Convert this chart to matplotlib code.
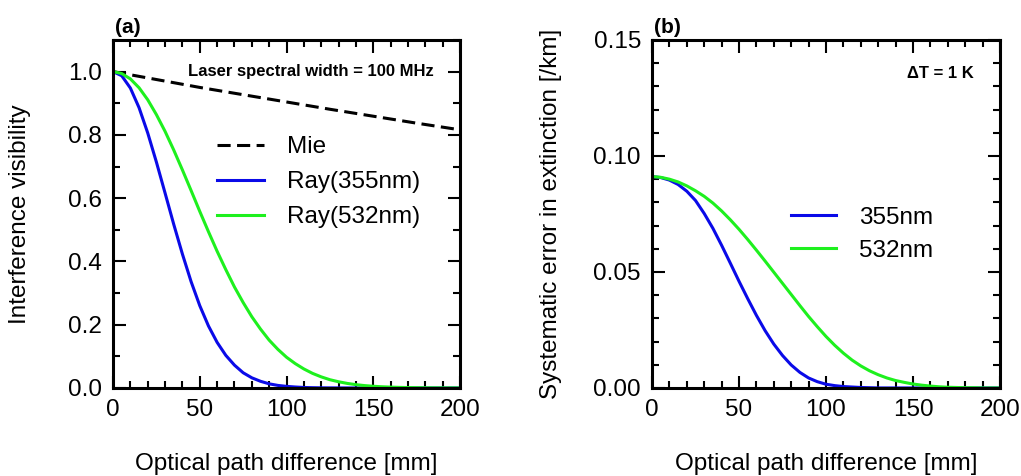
import matplotlib
matplotlib.use("Agg")
import matplotlib.pyplot as plt
from matplotlib.ticker import MultipleLocator, FormatStrFormatter

plt.rcParams["font.family"] = ["Liberation Sans", "DejaVu Sans"]

# optical path difference [mm]
opd = [0, 5, 10, 15, 20, 25, 30, 35, 40, 45, 50, 55, 60, 65, 70, 75, 80, 85, 90, 95,
       100, 105, 110, 115, 120, 125, 130, 135, 140, 145, 150, 155, 160, 165, 170, 175,
       180, 185, 190, 195, 200]

# (a) interference visibility
mie_x = [0, 25, 50, 75, 100, 125, 150, 175, 200]
mie_vis = [1.0, 0.975, 0.950, 0.927, 0.904, 0.881, 0.859, 0.837, 0.816]
ray355_vis = [1.0, 0.987, 0.948, 0.886, 0.806, 0.714, 0.616, 0.517, 0.423, 0.336,
              0.260, 0.196, 0.144, 0.103, 0.072, 0.048, 0.032, 0.021, 0.013, 0.008,
              0.005, 0.003, 0.0015, 0.0008, 0.0004, 0.0002, 0.0001, 0, 0, 0,
              0, 0, 0, 0, 0, 0, 0, 0, 0, 0, 0]
ray532_vis = [1.0, 0.994, 0.977, 0.949, 0.911, 0.864, 0.811, 0.752, 0.689, 0.624,
              0.558, 0.494, 0.432, 0.374, 0.319, 0.270, 0.225, 0.186, 0.151, 0.122,
              0.097, 0.077, 0.060, 0.046, 0.035, 0.026, 0.0195, 0.0143, 0.0104, 0.0074,
              0.0053, 0.0037, 0.0026, 0.0018, 0.0012, 0.0008, 0.0005, 0.0003, 0.0002, 0.0001, 0.0001]

# (b) systematic error in extinction [/km]
err355 = [0.0911, 0.0907, 0.0896, 0.0877, 0.0848, 0.0808, 0.0752, 0.0688, 0.0615, 0.0538,
          0.0460, 0.0385, 0.0313, 0.0247, 0.0189, 0.0140, 0.0099, 0.0067, 0.0043, 0.0027,
          0.0016, 0.0010, 0.0006, 0.0004, 0.0002, 0.0001, 0, 0, 0, 0,
          0, 0, 0, 0, 0, 0, 0, 0, 0, 0, 0]
err532 = [0.0911, 0.0908, 0.0900, 0.0888, 0.0871, 0.0850, 0.0826, 0.0797, 0.0763, 0.0725,
          0.0684, 0.0640, 0.0594, 0.0547, 0.0499, 0.0451, 0.0403, 0.0355, 0.0308, 0.0264,
          0.0222, 0.0184, 0.0150, 0.0120, 0.0095, 0.0074, 0.0057, 0.0043, 0.0032, 0.0024,
          0.0017, 0.0012, 0.0008, 0.0005, 0.0003, 0.0002, 0.0001, 0.0001, 0, 0, 0]

BLUE = "#0a0ae8"
GREEN = "#1ef01e"
FS = 17.5

fig = plt.figure(figsize=(10.21, 4.76), dpi=100)
ax1 = fig.add_axes([0.1107, 0.185, 0.3399, 0.731])
ax2 = fig.add_axes([0.6386, 0.185, 0.3408, 0.731])


def style(ax, ymajor, yminor):
    ax.set_xlim(0, 200)
    ax.xaxis.set_major_locator(MultipleLocator(50))
    ax.xaxis.set_minor_locator(MultipleLocator(10))
    ax.yaxis.set_major_locator(MultipleLocator(ymajor))
    ax.yaxis.set_minor_locator(MultipleLocator(yminor))
    ax.tick_params(which="both", direction="in", top=True, right=True, width=1.5)
    ax.tick_params(which="major", length=9, labelsize=FS, pad=8)
    ax.tick_params(which="minor", length=5)
    for sp in ax.spines.values():
        sp.set_linewidth(2.2)
    ax.set_xlabel("Optical path difference [mm]", fontsize=FS, va="top")
    ax.xaxis.set_label_coords(0.5, -0.186)


# panel (a)
ax1.plot(mie_x, mie_vis, color="black", lw=2.2, dashes=(4.3, 2.1), label="Mie")
ax1.plot(opd, ray355_vis, color=BLUE, lw=2.2, label="Ray(355nm)")
ax1.plot(opd, ray532_vis, color=GREEN, lw=2.2, label="Ray(532nm)")
ax1.set_ylim(0, 1.1)
style(ax1, 0.2, 0.1)
ax1.yaxis.set_major_formatter(FormatStrFormatter("%.1f"))
ax1.set_ylabel("Interference visibility", fontsize=FS)
ax1.yaxis.set_label_coords(-0.235, 0.5)
ax1.text(0.925, 0.909, "Laser spectral width = 100 MHz", transform=ax1.transAxes,
         ha="right", va="center", fontsize=12, fontweight="bold")
ax1.text(0.005, 1.01, "(a)", transform=ax1.transAxes, ha="left", va="bottom",
         fontsize=15, fontweight="bold")
ax1.legend(loc="upper left", bbox_to_anchor=(0.30, 0.723), frameon=False, fontsize=FS,
           handlelength=1.93, handletextpad=0.95, labelspacing=0.53, borderpad=0,
           borderaxespad=0)

# panel (b)
ax2.plot(opd, err355, color=BLUE, lw=2.2, label="355nm")
ax2.plot(opd, err532, color=GREEN, lw=2.2, label="532nm")
ax2.set_ylim(0, 0.15)
style(ax2, 0.05, 0.01)
ax2.yaxis.set_major_formatter(FormatStrFormatter("%.2f"))
ax2.set_ylabel("Systematic error in extinction [/km]", fontsize=FS)
ax2.yaxis.set_label_coords(-0.26, 0.5)
ax2.text(0.925, 0.905, "\u0394T = 1 K", transform=ax2.transAxes,
         ha="right", va="center", fontsize=12, fontweight="bold")
ax2.text(0.005, 1.01, "(b)", transform=ax2.transAxes, ha="left", va="bottom",
         fontsize=15, fontweight="bold")
ax2.legend(loc="upper left", bbox_to_anchor=(0.40, 0.521), frameon=False, fontsize=FS,
           handlelength=1.85, handletextpad=0.95, labelspacing=0.46, borderpad=0,
           borderaxespad=0)

fig.savefig("out.png", dpi=100)
